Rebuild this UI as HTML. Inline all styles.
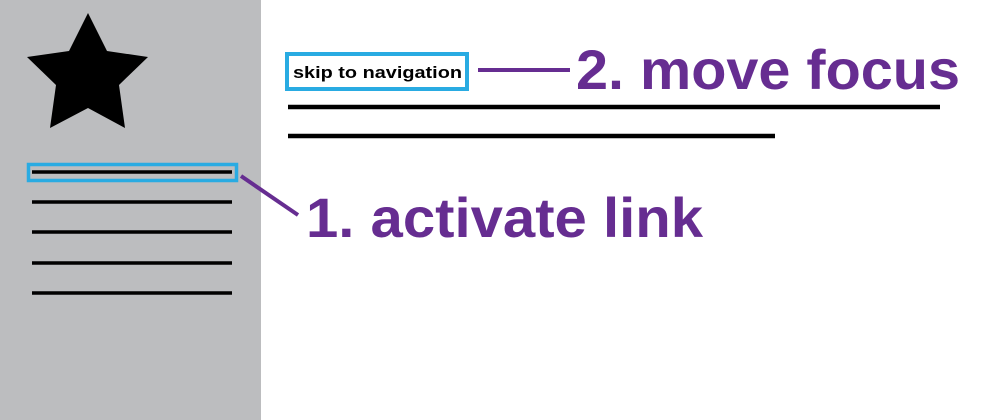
<!DOCTYPE html>
<html><head><meta charset="utf-8"><style>
html,body{margin:0;padding:0;background:#fff;width:1000px;height:420px;overflow:hidden}
svg{display:block}
</style></head><body>
<svg width="1000" height="420" viewBox="0 0 1000 420">
<rect x="0" y="0" width="261" height="420" fill="#bcbdbf"/>
<polygon points="88,13 107,51 148,57 119,85 125,128 88,108 50,128 56,85 27,57 69,51" fill="#000"/>
<rect x="28.5" y="164.5" width="208" height="16" fill="none" stroke="#29abe2" stroke-width="3.5"/>
<g stroke="#000" stroke-width="3.5">
<line x1="32" y1="172" x2="232" y2="172"/>
<line x1="32" y1="202" x2="232" y2="202"/>
<line x1="32" y1="232" x2="232" y2="232"/>
<line x1="32" y1="263" x2="232" y2="263"/>
<line x1="32" y1="293" x2="232" y2="293"/>
</g>
<rect x="287" y="54" width="180" height="35" fill="#fff" stroke="#29abe2" stroke-width="4"/>
<text x="293" y="78" font-family="Liberation Sans, sans-serif" font-weight="bold" font-size="17" textLength="169" lengthAdjust="spacingAndGlyphs" fill="#000">skip to navigation</text>
<line x1="288" y1="107" x2="940" y2="107" stroke="#000" stroke-width="4.5"/>
<line x1="288" y1="136" x2="775" y2="136" stroke="#000" stroke-width="4.5"/>
<line x1="241" y1="176" x2="298" y2="215" stroke="#662d91" stroke-width="4"/>
<line x1="478" y1="70" x2="570" y2="70" stroke="#662d91" stroke-width="4"/>
<text x="576" y="89" font-family="Liberation Sans, sans-serif" font-weight="bold" font-size="56" textLength="384" lengthAdjust="spacingAndGlyphs" fill="#662d91">2. move focus</text>
<text x="306" y="237" font-family="Liberation Sans, sans-serif" font-weight="bold" font-size="56" textLength="397" lengthAdjust="spacingAndGlyphs" fill="#662d91">1. activate link</text>
</svg>
</body></html>
